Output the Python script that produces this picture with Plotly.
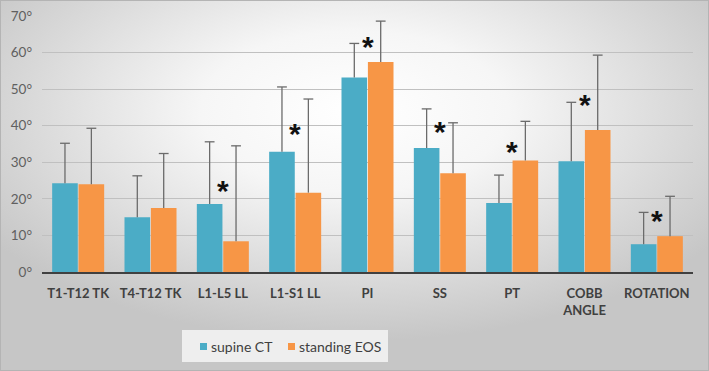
import base64
import plotly.graph_objects as go

categories = ["T1-T12 TK", "T4-T12 TK", "L1-L5 LL", "L1-S1 LL", "PI", "SS", "PT", "COBB<br>ANGLE", "ROTATION"]
supine_mean = [24.3, 15.0, 18.6, 32.9, 53.2, 33.9, 18.9, 30.3, 7.6]
supine_sd = [10.9, 11.3, 17.0, 17.7, 9.3, 10.7, 7.6, 16.1, 8.7]
standing_mean = [24.0, 17.5, 8.4, 21.7, 57.4, 27.0, 30.5, 38.8, 9.8]
standing_sd = [15.3, 14.9, 26.1, 25.6, 11.2, 13.8, 10.7, 20.5, 10.9]
star_level = [None, None, 23.3, 39.1, 62.7, 39.6, 34.1, 46.8, 15.1]
y_ticks = [0, 10, 20, 30, 40, 50, 60, 70]
y_tick_labels = [f"{v}°" for v in y_ticks]
series_names = ["supine CT", "standing EOS"]

W, H = 709, 371
ML, MR, MT, MB = 42, 16, 16, 99
PW, PH = W - ML - MR, H - MT - MB
GAP = 0.27


def px(x):
    return (x - ML) / PW


def py(y):
    return 1 - (y - MT) / PH


svg = f'''<svg xmlns="http://www.w3.org/2000/svg" width="{W}" height="{H}" viewBox="0 0 {W} {H}" preserveAspectRatio="none">
<defs><radialGradient id="g" cx="0.5" cy="0.3" r="0.62" gradientUnits="objectBoundingBox">
<stop offset="0" stop-color="#ffffff"/><stop offset="0.35" stop-color="#f6f6f6"/><stop offset="1" stop-color="#c6c6c6"/></radialGradient></defs>
<rect x="0" y="0" width="{W}" height="{H}" fill="url(#g)"/>
<rect x="0.5" y="0.5" width="{W-1}" height="{H-1}" fill="none" stroke="#b4b4b4" stroke-width="1"/>
</svg>'''
src = "data:image/svg+xml;base64," + base64.b64encode(svg.encode()).decode()

blue = "#4BACC6"
orange = "#F79646"
colors = [blue, orange]
err_col = "#6b6b6b"

fig = go.Figure()
series = [(series_names[0], supine_mean, supine_sd, blue, "a"),
          (series_names[1], standing_mean, standing_sd, orange, "b")]
for name, mean, sd, col, grp in series:
    fig.add_trace(go.Bar(
        x=categories, y=mean, name=name, offsetgroup=grp, showlegend=False,
        marker=dict(color=col, line=dict(width=0)),
        error_y=dict(type="data", array=sd, symmetric=False, arrayminus=[0] * len(sd),
                     color=err_col, thickness=1.3, width=0),
    ))
for name, mean, sd, col, grp in series:
    fig.add_trace(go.Scatter(
        x=categories, y=[m + s for m, s in zip(mean, sd)], mode="markers",
        offsetgroup=grp, showlegend=False, hoverinfo="skip",
        marker=dict(symbol="line-ew", size=7, line=dict(color=err_col, width=1.3)),
    ))

for c, s in zip(categories, star_level):
    if s is None:
        continue
    fig.add_annotation(x=c, y=s, text="<b>*</b>", showarrow=False, xref="x", yref="y",
                       yanchor="middle", yshift=-4,
                       font=dict(size=30, color="#111111", family="Liberation Sans"))

# legend box (drawn manually to match the compact legend of the reference)
shapes = [dict(type="rect", xref="paper", yref="paper", x0=px(182), x1=px(388), y0=py(362), y1=py(330),
               fillcolor="#eeeeee", line=dict(width=0), layer="below")]
leg_x = [200, 288]
for i, (name, col) in enumerate(zip(series_names, colors)):
    shapes.append(dict(type="rect", xref="paper", yref="paper", x0=px(leg_x[i]), x1=px(leg_x[i] + 7),
                       y0=py(350), y1=py(343), fillcolor=col, line=dict(width=0)))
    fig.add_annotation(x=px(leg_x[i] + 9), y=py(346.5), xref="paper", yref="paper", text=name,
                       showarrow=False, xanchor="left", yanchor="middle",
                       font=dict(size=14, color="#404040", family="Lato"))

fig.update_layout(
    width=W, height=H,
    margin=dict(l=ML, r=MR, t=MT, b=MB, pad=0, autoexpand=False),
    paper_bgcolor="rgba(0,0,0,0)", plot_bgcolor="rgba(0,0,0,0)",
    barmode="group", bargap=GAP, bargroupgap=0.03,
    scattermode="group", scattergap=GAP,
    font=dict(family="Lato", color="#404040"),
    images=[dict(source=src, xref="paper", yref="paper",
                 x=-ML / PW, y=1 + MT / PH, sizex=W / PW, sizey=H / PH,
                 xanchor="left", yanchor="top", sizing="stretch", layer="below")],
    shapes=shapes,
    showlegend=False,
)
fig.update_xaxes(showgrid=False, showline=True, linecolor="#404040", linewidth=2, automargin=False,
                 tickfont=dict(size=13, color="#404040", family="Lato", weight="bold"),
                 ticks="", ticklabelstandoff=8)
fig.update_yaxes(range=[0, 70], tickvals=y_ticks, ticktext=y_tick_labels, automargin=False,
                 showgrid=True, gridcolor="#c0c0c0", gridwidth=1.3, zeroline=False,
                 showline=False, tickfont=dict(size=13.5, color="#606060", family="Lato"),
                 ticks="", ticklabelstandoff=9)

fig.write_html("out.html", config={"displayModeBar": False},
               post_script="document.body.style.margin='0';document.body.style.overflow='hidden';")
